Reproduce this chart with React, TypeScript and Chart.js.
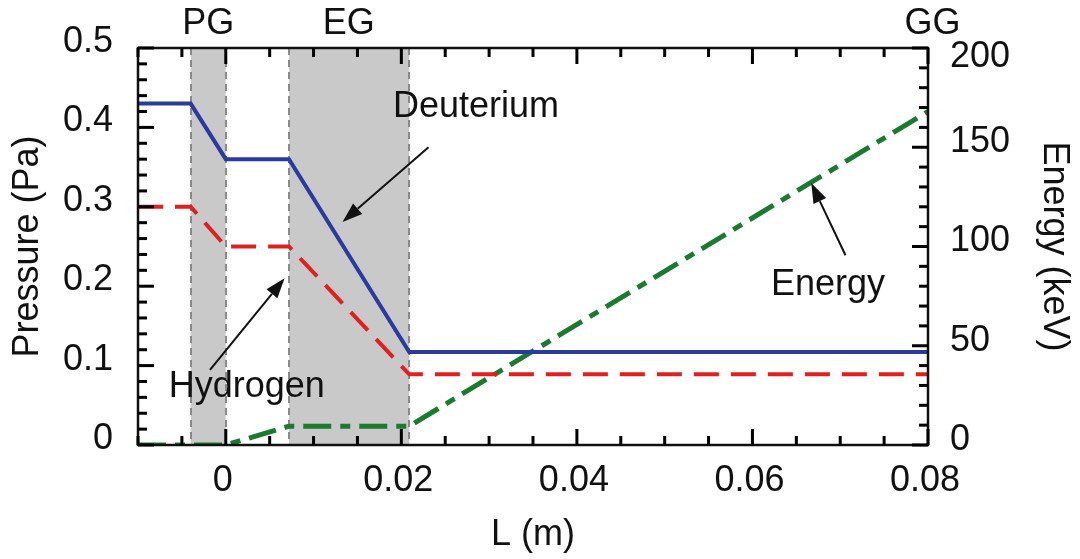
import React, { useEffect, useRef } from "react";
import { Chart, registerables } from "chart.js";

Chart.register(...registerables);

// ---- data ----
const pressureL = [-0.01, -0.004, 0, 0.0072, 0.0209, 0.08];
const deuterium = [0.43, 0.43, 0.36, 0.36, 0.117, 0.117];
const hydrogen = [0.3, 0.3, 0.25, 0.25, 0.089, 0.089];
const energyL = [-0.01, 0, 0.0072, 0.0209, 0.08];
const energy = [0, 0, 9.5, 9.5, 168];

const xTickValues = [0, 0.02, 0.04, 0.06, 0.08];
const xTickLabels = ["0", "0.02", "0.04", "0.06", "0.08"];
const yTickValues = [0, 0.1, 0.2, 0.3, 0.4, 0.5];
const yTickLabels = ["0", "0.1", "0.2", "0.3", "0.4", "0.5"];
const y2TickValues = [0, 50, 100, 150, 200];
const y2TickLabels = ["0", "50", "100", "150", "200"];

const gapNames = ["PG", "EG", "GG"];
const gapCenters = [-0.002, 0.014, 0.0805];
const gapStarts = [-0.004, 0.0072];
const gapEnds = [0, 0.0209];

const noteTexts = ["Deuterium", "Hydrogen", "Energy"];
const noteAt = [
  [0.0285, 0.4257],
  [0.0024, 0.073],
  [0.0686, 0.2015],
];
const arrowFrom = [
  [0.0231, 0.375],
  [-0.0018, 0.0945],
  [0.0706, 0.239],
];
const arrowTo = [
  [0.0133, 0.281],
  [0.0067, 0.21],
  [0.0667, 0.33],
];

const FONT = "'Liberation Sans', Arial, Helvetica, sans-serif";
const FS = 36;

function toXY(xs: number[], ys: number[]) {
  return xs.map((x, i) => ({ x, y: ys[i] }));
}

function noPad(s: any) {
  s.paddingTop = 0;
  s.paddingBottom = 0;
  s.paddingLeft = 0;
  s.paddingRight = 0;
}

const shadePlugin = {
  id: "shade",
  beforeDatasetsDraw(chart: any) {
    const ctx = chart.ctx;
    const area = chart.chartArea;
    const xs = chart.scales.x;
    ctx.save();
    ctx.fillStyle = "#c9c9c9";
    for (let i = 0; i < gapStarts.length; i++) {
      const a = xs.getPixelForValue(gapStarts[i]);
      const b = xs.getPixelForValue(gapEnds[i]);
      ctx.fillRect(a, area.top, b - a, area.bottom - area.top);
    }
    ctx.strokeStyle = "#8a8a8a";
    ctx.lineWidth = 2;
    ctx.setLineDash([7, 5]);
    [...gapStarts, ...gapEnds].forEach((v) => {
      const p = Math.round(xs.getPixelForValue(v));
      ctx.beginPath();
      ctx.moveTo(p, area.top);
      ctx.lineTo(p, area.bottom);
      ctx.stroke();
    });
    ctx.restore();
  },
};

const notePlugin = {
  id: "notes",
  afterDraw(chart: any) {
    const ctx = chart.ctx;
    const area = chart.chartArea;
    const xs = chart.scales.x;
    const ys = chart.scales.y;
    ctx.save();
    ctx.setLineDash([]);
    ctx.strokeStyle = "#111";
    ctx.lineWidth = 2.5;
    ctx.strokeRect(area.left, area.top, area.right - area.left, area.bottom - area.top);

    ctx.fillStyle = "#111";
    ctx.font = `${FS}px ${FONT}`;
    ctx.textAlign = "center";
    ctx.textBaseline = "middle";
    gapNames.forEach((n, i) => {
      ctx.fillText(n, xs.getPixelForValue(gapCenters[i]), 24);
    });

    noteTexts.forEach((t, i) => {
      ctx.fillText(t, xs.getPixelForValue(noteAt[i][0]), ys.getPixelForValue(noteAt[i][1]));
      const x1 = xs.getPixelForValue(arrowFrom[i][0]);
      const y1 = ys.getPixelForValue(arrowFrom[i][1]);
      const x2 = xs.getPixelForValue(arrowTo[i][0]);
      const y2p = ys.getPixelForValue(arrowTo[i][1]);
      const ang = Math.atan2(y2p - y1, x2 - x1);
      const headL = 20;
      const headW = 7;
      const bx = x2 - headL * Math.cos(ang);
      const by = y2p - headL * Math.sin(ang);
      ctx.lineWidth = 2;
      ctx.beginPath();
      ctx.moveTo(x1, y1);
      ctx.lineTo(bx, by);
      ctx.stroke();
      ctx.beginPath();
      ctx.moveTo(x2, y2p);
      ctx.lineTo(bx + headW * Math.sin(ang), by - headW * Math.cos(ang));
      ctx.lineTo(bx - headW * Math.sin(ang), by + headW * Math.cos(ang));
      ctx.closePath();
      ctx.fill();
    });
    ctx.restore();
  },
};

const tickPlugin = {
  id: "innerTicks",
  afterDraw(c: any) {
    const ctx = c.ctx;
    const a = c.chartArea;
    const xs = c.scales.x;
    const ys = c.scales.y;
    const ys2 = c.scales.y2;
    ctx.save();
    ctx.fillStyle = "#000000";
    const w = 3;
    for (let k = 0; k <= 18; k++) {
      const p = xs.getPixelForValue(-0.01 + k * 0.005);
      const len = k >= 2 && (k - 2) % 4 === 0 ? 16 : 9;
      ctx.fillRect(p - w / 2, a.bottom - len, w, len);
      ctx.fillRect(p - w / 2, a.top, w, len);
    }
    for (let k = 0; k <= 25; k++) {
      const p = ys.getPixelForValue(k * 0.02);
      const len = k % 5 === 0 ? 16 : 9;
      ctx.fillRect(a.left, p - w / 2, len, w);
    }
    for (let k = 0; k <= 20; k++) {
      const p = ys2.getPixelForValue(k * 10);
      const len = k % 5 === 0 ? 16 : 9;
      ctx.fillRect(a.right - len, p - w / 2, len, w);
    }
    ctx.restore();
  },
};

export default function App() {
  const ref = useRef<HTMLCanvasElement | null>(null);
  useEffect(() => {
    if (!ref.current) return;
    Chart.defaults.font.family = FONT;
    const chart = new Chart(ref.current, {
      type: "line",
      data: {
        datasets: [
          {
            label: "Deuterium",
            data: toXY(pressureL, deuterium),
            yAxisID: "y",
            borderColor: "#2b3a9e",
            borderWidth: 4,
            pointRadius: 0,
            tension: 0,
            fill: false,
          },
          {
            label: "Hydrogen",
            data: toXY(pressureL, hydrogen),
            yAxisID: "y",
            borderColor: "#e0201e",
            borderWidth: 4,
            borderDash: [25, 12],
            pointRadius: 0,
            tension: 0,
            fill: false,
          },
          {
            label: "Energy",
            data: toXY(energyL, energy),
            yAxisID: "y2",
            borderColor: "#1c7a30",
            borderWidth: 5,
            borderDash: [28, 9, 10, 9],
            pointRadius: 0,
            tension: 0,
            fill: false,
          },
        ],
      },
      options: {
        animation: false,
        responsive: false,
        devicePixelRatio: 1,
        layout: { padding: { top: 48, left: 0, right: 0, bottom: 0 } },
        plugins: { legend: { display: false }, tooltip: { enabled: false } },
        scales: {
          x: {
            type: "linear",
            min: -0.01,
            max: 0.08,
            grid: { display: false, drawTicks: false },
            border: { display: false },
            afterBuildTicks: (s: any) => {
              s.ticks = xTickValues.map((v) => ({ value: v }));
            },
            afterFit: (s: any) => {
              s.height = 114;
              noPad(s);
            },
            ticks: {
              callback: (_v: any, i: number) => xTickLabels[i],
              font: { size: FS, family: FONT },
              color: "#111",
              padding: 14,
              labelOffset: -3,
              maxRotation: 0,
              autoSkip: false,
            },
            title: {
              display: true,
              text: "L (m)",
              font: { size: FS, family: FONT },
              color: "#111",
              padding: { top: 0, bottom: 2 },
            },
          },
          y: {
            type: "linear",
            position: "left",
            min: 0,
            max: 0.5,
            grid: { display: false, drawTicks: false },
            border: { display: false },
            afterBuildTicks: (s: any) => {
              s.ticks = yTickValues.map((v) => ({ value: v }));
            },
            afterFit: (s: any) => {
              s.width = 138;
              noPad(s);
            },
            ticks: {
              callback: (_v: any, i: number) => yTickLabels[i],
              font: { size: FS, family: FONT },
              color: "#111",
              padding: 25,
              labelOffset: -6,
              autoSkip: false,
            },
            title: {
              display: true,
              text: "Pressure (Pa)",
              font: { size: FS, family: FONT },
              color: "#111",
              padding: { top: 6, bottom: 0 },
            },
          },
          y2: {
            type: "linear",
            position: "right",
            min: 0,
            max: 200,
            grid: { display: false, drawTicks: false },
            border: { display: false },
            afterBuildTicks: (s: any) => {
              s.ticks = y2TickValues.map((v) => ({ value: v }));
            },
            afterFit: (s: any) => {
              s.width = 152;
              noPad(s);
            },
            ticks: {
              callback: (_v: any, i: number) =>
                i === y2TickLabels.length - 1 ? ["", y2TickLabels[i]] : y2TickLabels[i],
              font: { size: FS, family: FONT, lineHeight: 0.8 },
              color: "#111",
              padding: 22,
              labelOffset: -5,
              autoSkip: false,
            },
            title: {
              display: true,
              text: "Energy (keV)",
              font: { size: FS, family: FONT },
              color: "#111",
              padding: { top: 4, bottom: 0 },
            },
          },
        },
      },
      plugins: [shadePlugin, notePlugin, tickPlugin],
    } as any);
    return () => chart.destroy();
  }, []);
  return (
    <div style={{ position: "absolute", left: 0, top: 0, width: 1080, height: 559, background: "#fff" }}>
      <canvas ref={ref} width={1080} height={559} style={{ width: 1080, height: 559, display: "block" }} />
    </div>
  );
}
